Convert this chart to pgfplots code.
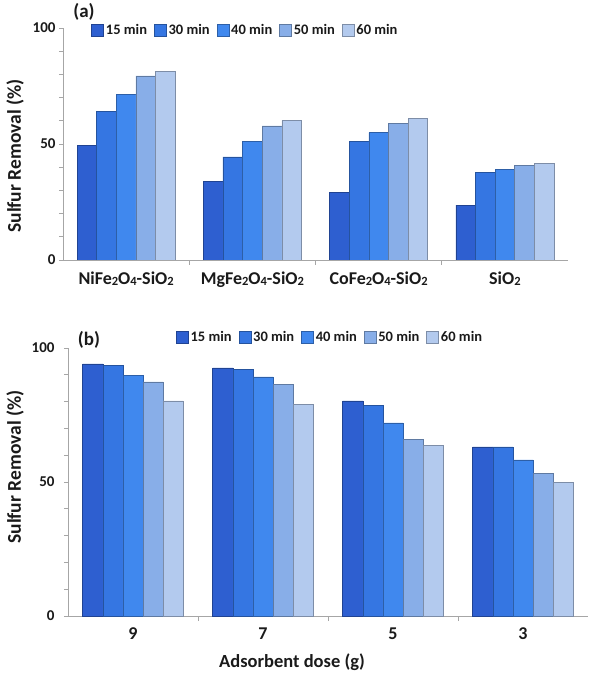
\documentclass[border=0pt]{standalone}
\usepackage{fontspec}
\setmainfont{Carlito}
\usepackage{pgfplots}
\pgfplotsset{compat=1.18}
\usepackage{pgfplotstable}

\definecolor{cA}{HTML}{2E5FD0}
\definecolor{cB}{HTML}{3576E2}
\definecolor{cC}{HTML}{4088EE}
\definecolor{cD}{HTML}{88AEE8}
\definecolor{cE}{HTML}{B3CAEE}
\definecolor{axgray}{HTML}{A6A6A6}
\definecolor{txt}{HTML}{1A1A1A}

\pgfplotstableread{
x t15 t30 t40 t50 t60
0 49.3 64.2 71.5 79.4 81.2
1 33.8 44.4 51.0 57.8 60.2
2 29.2 51.2 54.9 58.9 60.9
3 23.6 37.8 39.2 40.8 41.7
}\dataA

\pgfplotstableread{
x t15 t30 t40 t50 t60
0 94.1 93.5 89.9 87.4 80.3
1 92.6 92.1 89.2 86.5 78.9
2 80.3 78.7 72.1 66.0 63.8
3 63.1 63.1 58.3 53.3 49.8
}\dataB

\newcommand{\sub}[1]{\raisebox{-0.12ex}{\fontsize{12.5pt}{12.5pt}\selectfont #1}}

\pgfplotsset{
  barstyle/.style={draw=#1!70!black, line width=0.5pt, fill=#1},
  common/.style={
    scale only axis,
    ymin=0, ymax=100,
    xmin=-0.5, xmax=3.5,
    ytick={0,50,100},
    minor ytick={10,20,30,40,60,70,80,90},
    axis lines*=left,
    axis line style={draw=axgray, line width=0.8pt},
    every tick/.style={draw=axgray, line width=0.8pt},
    tick align=outside,
    major tick length=4pt,
    minor tick length=4pt,
    xtick={0,1,2,3},
    x tick style={draw=none},
    extra x ticks={0.5,1.5,2.5},
    extra x tick labels={},
    extra x tick style={x tick style={draw=axgray, line width=0.8pt}, major tick length=5pt},
    /pgf/number format/assume math mode=true,
    yticklabel style={font=\fontsize{15pt}{15pt}\selectfont\bfseries, text=txt},
    xticklabel style={font=\fontsize{18pt}{18pt}\selectfont\bfseries, text=txt, yshift=-4pt},
    ybar=0pt,
    legend columns=5,
    legend style={draw=none, fill=none, font=\fontsize{14.5pt}{14.5pt}\selectfont\bfseries, text=txt,
      /tikz/every even column/.append style={column sep=5pt}},
    legend image code/.code={\path[##1] (0pt,-6pt) rectangle (12pt,6pt);},
  },
}

\begin{document}
\begin{tikzpicture}[x=1pt,y=1pt]
\path[use as bounding box] (0,0) rectangle (591,673);

% ---------- panel (a)
\begin{axis}[common,
  at={(63pt,413pt)}, anchor=south west,
  width=505pt, height=232pt,
  bar width=19.6pt,
  xticklabels={{NiFe\sub{2}O\sub{4}-SiO\sub{2}},{MgFe\sub{2}O\sub{4}-SiO\sub{2}},{CoFe\sub{2}O\sub{4}-SiO\sub{2}},{SiO\sub{2}}},
  legend style={at={(rel axis cs:0.05,0.99)}, anchor=west},
]
\addplot[barstyle=cA] table[x=x,y=t15]{\dataA};
\addplot[barstyle=cB] table[x=x,y=t30]{\dataA};
\addplot[barstyle=cC] table[x=x,y=t40]{\dataA};
\addplot[barstyle=cD] table[x=x,y=t50]{\dataA};
\addplot[barstyle=cE] table[x=x,y=t60]{\dataA};
\legend{15 min,30 min,40 min,50 min,60 min}
\end{axis}

% ---------- panel (b)
\begin{axis}[common,
  at={(68pt,57pt)}, anchor=south west,
  width=520pt, height=268pt,
  bar width=20.1pt,
  xticklabels={9,7,5,3},
  yticklabel style={xshift=-6pt},
  legend style={at={(rel axis cs:0.504,1.041)}, anchor=center},
]
\addplot[barstyle=cA] table[x=x,y=t15]{\dataB};
\addplot[barstyle=cB] table[x=x,y=t30]{\dataB};
\addplot[barstyle=cC] table[x=x,y=t40]{\dataB};
\addplot[barstyle=cD] table[x=x,y=t50]{\dataB};
\addplot[barstyle=cE] table[x=x,y=t60]{\dataB};
\legend{15 min,30 min,40 min,50 min,60 min}
\end{axis}

\node[rotate=90, text=txt, font=\fontsize{19.5pt}{19.5pt}\selectfont\bfseries] at (15,517) {Sulfur Removal (\%)};
\node[rotate=90, text=txt, font=\fontsize{19.5pt}{19.5pt}\selectfont\bfseries] at (15,206) {Sulfur Removal (\%)};
\node[text=txt, font=\fontsize{19pt}{19pt}\selectfont\bfseries] at (84,661) {(a)};
\node[text=txt, font=\fontsize{19pt}{19pt}\selectfont\bfseries] at (89,333) {(b)};
\node[text=txt, font=\fontsize{18.5pt}{18.5pt}\selectfont\bfseries] at (292,11) {Adsorbent dose (g)};
\end{tikzpicture}
\end{document}
